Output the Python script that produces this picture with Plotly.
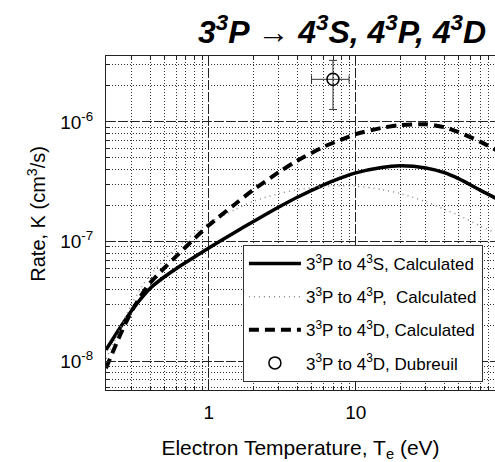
import numpy as np
import plotly.graph_objects as go

# ---- data ----
T_calc = [0.2, 0.25, 0.3, 0.35, 0.4, 0.5, 0.6, 0.8, 1.0, 1.5, 2, 3, 4, 6, 8, 10, 15, 20, 30, 40, 50, 70, 90, 100]
K_4S = [1.24e-8, 1.91e-8, 2.66e-8, 3.39e-8, 4.07e-8, 5.07e-8, 5.92e-8, 7.41e-8, 8.81e-8, 1.189e-7,
        1.462e-7, 1.941e-7, 2.344e-7, 2.965e-7, 3.42e-7, 3.75e-7, 4.16e-7, 4.29e-7, 4.12e-7, 3.76e-7,
        3.35e-7, 2.69e-7, 2.29e-7, 2.11e-7]
K_4P = [1.047e-8, 1.862e-8, 3.02e-8, 4.17e-8, 5.25e-8, 7.08e-8, 8.81e-8, 1.175e-7, 1.429e-7, 1.841e-7,
        2.163e-7, 2.512e-7, 2.704e-7, 2.88e-7, 2.93e-7, 2.90e-7, 2.72e-7, 2.52e-7, 2.15e-7, 1.86e-7,
        1.66e-7, 1.35e-7, 1.175e-7, 1.10e-7]
K_4D = [8.71e-9, 1.66e-8, 2.63e-8, 3.59e-8, 4.52e-8, 6.03e-8, 7.50e-8, 1.059e-7, 1.365e-7, 2.04e-7,
        2.69e-7, 3.80e-7, 4.73e-7, 6.17e-7, 7.11e-7, 7.90e-7, 8.91e-7, 9.38e-7, 9.55e-7, 9.02e-7,
        8.22e-7, 6.84e-7, 5.82e-7, 5.37e-7]

T_exp = [7.0]
K_exp = [2.27e-6]
T_err = [2.0]
K_err = [1.0e-6]

x_tickvals = [1, 10]
x_ticktext = ["1", "10"]
y_tickvals = [1e-8, 1e-7, 1e-6]
y_ticktext = ["10<sup>-8</sup>", "10<sup>-7</sup>", "10<sup>-6</sup>"]

names = ["3<sup>3</sup>P to 4<sup>3</sup>S, Calculated",
         "3<sup>3</sup>P to 4<sup>3</sup>P, \u00a0Calculated",
         "3<sup>3</sup>P to 4<sup>3</sup>D, Calculated",
         "3<sup>3</sup>P to 4<sup>3</sup>D, Dubreuil"]

FONT = "Liberation Sans, Arial, sans-serif"

fig = go.Figure()
fig.add_trace(go.Scatter(x=T_calc, y=K_4S, mode="lines", name=names[0], legendgroup="a",
                         line=dict(color="black", width=3.5, shape="spline", smoothing=0.8)))
fig.add_trace(go.Scatter(x=T_calc, y=K_4P, mode="lines", name=names[1], legendgroup="b",
                         line=dict(color="#8a8a8a", width=1.5, dash="1px,4px", shape="spline", smoothing=0.8)))
fig.add_trace(go.Scatter(x=T_calc, y=K_4D, mode="lines", name=names[2], legendgroup="c",
                         line=dict(color="black", width=4, dash="10px,6px", shape="spline", smoothing=0.8)))
fig.add_trace(go.Scatter(x=T_exp, y=K_exp, mode="markers", name=names[3], legendgroup="d",
                         marker=dict(symbol="circle-open", size=12, color="black", line=dict(width=1.5)),
                         error_x=dict(type="data", array=T_err, color="#333", thickness=1, width=4),
                         error_y=dict(type="data", array=K_err, color="#333", thickness=1, width=4)))

axis_common = dict(
    showline=True, linecolor="#222", linewidth=1,
    ticks="inside", ticklen=7, tickcolor="#222",
    showgrid=True, gridcolor="#222", gridwidth=1, griddash="9px,3px",
    tickfont=dict(family=FONT, size=19, color="black"),
    zeroline=False,
    minor=dict(dtick="D1", ticks="inside", ticklen=4, tickcolor="#222",
               showgrid=True, gridcolor="#333", gridwidth=1, griddash="1px,2px"),
)

fig.update_xaxes(type="log", range=[np.log10(0.2), 1.947], tickvals=x_tickvals, ticktext=x_ticktext,
                 mirror="allticks", ticklabelstandoff=5,
                 title=dict(text="Electron Temperature, T<sub>e</sub> (eV)",
                            font=dict(family=FONT, size=21, color="black"), standoff=20),
                 **axis_common)
fig.update_yaxes(type="log", range=[-8.242, -5.449], tickvals=y_tickvals, ticktext=y_ticktext,
                 mirror=False, ticklabelstandoff=8,
                 **axis_common)

fig.add_annotation(text="Rate, K (cm<sup>3</sup>/s)", xref="paper", yref="paper",
                   x=-0.178, y=0.527, xanchor="center", yanchor="middle", textangle=-90, showarrow=False,
                   font=dict(family=FONT, size=20, color="black"))

fig.add_annotation(text="<b><i>3<sup>3</sup>P \u2192 4<sup>3</sup>S, 4<sup>3</sup>P, 4<sup>3</sup>D</i></b>",
                   xref="paper", yref="paper", x=0.607, y=1.078, xanchor="center", yanchor="middle",
                   showarrow=False, font=dict(family=FONT, size=32, color="black"))

fig.update_layout(
    width=495, height=462,
    margin=dict(l=106, r=0, t=56, b=72),
    paper_bgcolor="white", plot_bgcolor="white",
    font=dict(family=FONT, color="black"),
    legend=dict(x=0.352, y=0.434, xanchor="left", yanchor="top",
                bgcolor="white", bordercolor="#333", borderwidth=1,
                font=dict(family=FONT, size=17, color="black"),
                tracegroupgap=8, itemwidth=52),
    showlegend=True,
)

fig.write_html("out.html")
